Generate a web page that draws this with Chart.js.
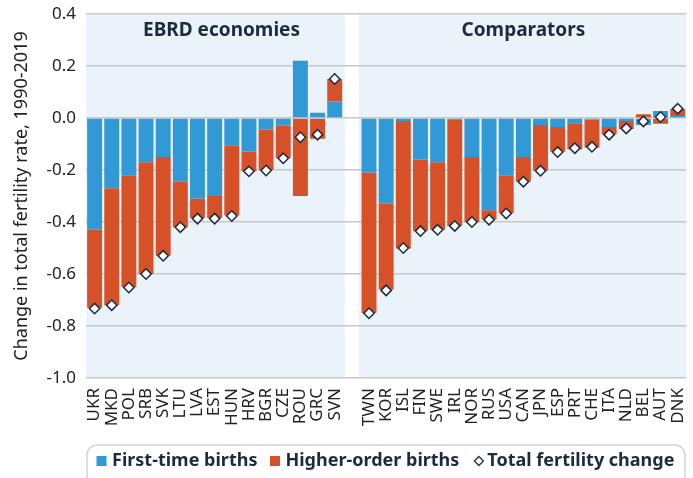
<!DOCTYPE html>
<html>
<head>
<meta charset="utf-8">
<script src="https://cdn.jsdelivr.net/npm/chart.js@4.4.1/dist/chart.umd.min.js"></script>
<style>
  body { margin: 0; background: #fff; }
  #wrap { width: 693px; height: 478px; }
</style>
</head>
<body>
<div id="wrap"><canvas id="fertility" width="693" height="478"></canvas></div>
<script>
// country codes, '' is the gap between the two groups
var countries = ['UKR','MKD','POL','SRB','SVK','LTU','LVA','EST','HUN','HRV','BGR','CZE','ROU','GRC','SVN','',
    'TWN','KOR','ISL','FIN','SWE','IRL','NOR','RUS','USA','CAN','JPN','ESP','PRT','CHE','ITA','NLD','BEL','AUT','DNK'];

var firstBirths = [-0.43,-0.27,-0.22,-0.17,-0.15,-0.245,-0.31,-0.30,-0.105,-0.13,-0.045,-0.03,0.22,0.02,0.063,null,
    -0.21,-0.33,-0.012,-0.16,-0.17,-0.005,-0.15,-0.355,-0.22,-0.15,-0.027,-0.035,-0.02,-0.006,-0.035,-0.012,-0.027,0.027,0.008];

var higherBirths = [-0.30,-0.45,-0.43,-0.43,-0.38,-0.175,-0.075,-0.085,-0.27,-0.075,-0.155,-0.125,-0.30,-0.08,0.087,null,
    -0.54,-0.33,-0.49,-0.275,-0.26,-0.41,-0.25,-0.035,-0.145,-0.095,-0.175,-0.095,-0.10,-0.107,-0.028,-0.03,0.014,-0.022,0.027];

var totalChange = [-0.733,-0.72,-0.652,-0.60,-0.53,-0.42,-0.387,-0.387,-0.377,-0.205,-0.202,-0.155,-0.074,-0.064,0.15,null,
    -0.751,-0.663,-0.50,-0.435,-0.43,-0.415,-0.40,-0.391,-0.367,-0.245,-0.203,-0.131,-0.116,-0.111,-0.064,-0.04,-0.013,0.004,0.036];

var yTicks = [-1.0, -0.8, -0.6, -0.4, -0.2, 0.0, 0.2, 0.4];
var groupTitles = ['EBRD economies', 'Comparators'];

var blue = '#3199D6';
var orange = '#D65127';
var navy = '#1B2B40';
var shade = '#EAF2FA';
var legendSize = 18;
var legendPad = 16;

function makeSwatch(kind, color) {
    var c = document.createElement('canvas');
    c.width = 16; c.height = 12;
    var g = c.getContext('2d');
    if (kind == 'square') {
        g.fillStyle = color;
        g.fillRect(3, 1, 10, 10);
    } else {
        // diamond sits a bit closer to its text
        g.beginPath();
        g.moveTo(10, 1.5); g.lineTo(14.5, 6); g.lineTo(10, 10.5); g.lineTo(5.5, 6);
        g.closePath();
        g.fillStyle = '#fff';
        g.fill();
        g.lineWidth = 1.3;
        g.strokeStyle = navy;
        g.stroke();
    }
    return c;
}
var swatches = [makeSwatch('square', blue), makeSwatch('square', orange), makeSwatch('diamond')];

var panelPlugin = {
    id: 'panels',
    afterLayout: function (chart) {
        chart.legend.left = 100 - legendPad;
        chart.legend.right = 900;
        chart.legend.top = 461 - legendPad - legendSize / 2;
    },
    beforeDraw: function (chart) {
        var ctx = chart.ctx, a = chart.chartArea, x = chart.scales.x;
        var gap = x.getPixelForValue(15);
        ctx.save();
        ctx.fillStyle = shade;
        ctx.fillRect(a.left, a.top, gap - 7 - a.left, a.bottom - a.top);
        ctx.fillRect(gap + 7, a.top, a.right - gap - 7, a.bottom - a.top);
        ctx.restore();
    },
    afterDraw: function (chart) {
        var ctx = chart.ctx, x = chart.scales.x, y = chart.scales.y;
        ctx.save();
        ctx.font = 'bold 19px "Noto Sans"';
        ctx.fillStyle = navy;
        ctx.textAlign = 'center';
        ctx.textBaseline = 'middle';
        ctx.fillText(groupTitles[0], x.getPixelForValue(7.4), y.getPixelForValue(0.338));
        ctx.fillText(groupTitles[1], x.getPixelForValue(25), y.getPixelForValue(0.338));
        // legend frame
        ctx.strokeStyle = '#D4D4D4';
        ctx.lineWidth = 1.5;
        ctx.beginPath();
        ctx.roundRect(87, 445, 598, 50, 10);
        ctx.stroke();
        ctx.restore();
    }
};

var ctx = document.getElementById('fertility');
var myChart = new Chart(ctx, {
    type: 'bar',
    data: {
        labels: countries,
        datasets: [{
            label: 'First-time births',
            data: firstBirths,
            backgroundColor: blue,
            borderWidth: 0,
            barPercentage: 1,
            categoryPercentage: 0.87
        }, {
            label: 'Higher-order births',
            data: higherBirths,
            backgroundColor: orange,
            borderWidth: 0,
            barPercentage: 1,
            categoryPercentage: 0.87
        }, {
            type: 'line',
            label: 'Total fertility change',
            data: totalChange,
            showLine: false,
            order: -1,
            pointStyle: 'rectRot',
            pointRadius: 5.2,
            pointBackgroundColor: '#fff',
            pointBorderColor: navy,
            pointBorderWidth: 1.5
        }]
    },
    options: {
        responsive: false,
        animation: false,
        layout: { padding: { top: 14, right: 6, bottom: 0, left: 0 } },
        scales: {
            x: {
                stacked: true,
                grid: { display: false, drawTicks: false },
                border: { display: false },
                ticks: {
                    autoSkip: false,
                    minRotation: 90,
                    maxRotation: 90,
                    padding: 10,
                    color: '#222',
                    font: { family: 'Noto Sans', size: 17 }
                },
                afterFit: function (scale) {
                    scale.height = 478 - 378 - (legendSize + legendPad + 10);
                    scale.paddingLeft = 0;
                    scale.paddingRight = 0;
                }
            },
            y: {
                stacked: true,
                min: -1.0,
                max: 0.4,
                afterBuildTicks: function (scale) {
                    scale.ticks = yTicks.map(function (v) { return { value: v }; });
                },
                grid: { color: '#C8C8C8', lineWidth: 1.5, drawTicks: false },
                border: { display: false },
                ticks: {
                    padding: 10,
                    color: '#222',
                    font: { family: 'Noto Sans', size: 17 },
                    callback: function (v) { return Number(v).toFixed(1); }
                },
                title: {
                    display: true,
                    text: 'Change in total fertility rate, 1990-2019',
                    color: '#222',
                    font: { family: 'Noto Sans', size: 18 },
                    padding: { top: 11, bottom: 0 }
                },
                afterFit: function (scale) {
                    scale.width = 86;
                    scale.paddingTop = 0;
                    scale.paddingBottom = 0;
                }
            }
        },
        plugins: {
            tooltip: { enabled: false },
            legend: {
                position: 'bottom',
                align: 'start',
                labels: {
                    usePointStyle: true,
                    boxWidth: 3,
                    padding: legendPad,
                    color: navy,
                    font: { family: 'Noto Sans', size: legendSize, weight: 'bold' },
                    sort: function (a, b) { return a.datasetIndex - b.datasetIndex; },
                    generateLabels: function (chart) {
                        var items = Chart.defaults.plugins.legend.labels.generateLabels(chart);
                        items.forEach(function (item) {
                            item.pointStyle = swatches[item.datasetIndex];
                        });
                        return items;
                    }
                }
            }
        }
    },
    plugins: [panelPlugin]
});
</script>
</body>
</html>
